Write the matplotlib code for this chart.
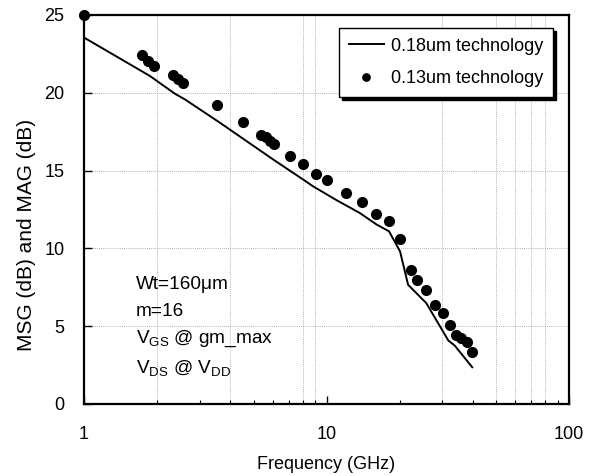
import numpy as np
import matplotlib.pyplot as plt
from matplotlib.ticker import FixedLocator, NullFormatter

plt.rcParams['font.family'] = ['Liberation Sans', 'DejaVu Sans']
plt.rcParams['mathtext.fontset'] = 'custom'
plt.rcParams['mathtext.rm'] = 'Liberation Sans'
plt.rcParams['mathtext.it'] = 'Liberation Sans'

# 0.18um technology (line)
f_018 = [1.0, 1.87, 2.37, 2.61, 3.64, 6.03, 8.02, 8.8, 11.0, 13.7, 16.1, 18.1,
         20.1, 21.7, 25.8, 29.4, 31.8, 33.8, 39.9]
g_018 = [23.55, 21.08, 19.94, 19.57, 18.07, 15.71, 14.42, 13.99, 13.1, 12.28, 11.53, 11.1,
         9.81, 7.66, 6.48, 4.98, 4.08, 3.75, 2.36]

# 0.13um technology (dots)
f_013 = [1.0, 1.73, 1.84, 1.94, 2.33, 2.43, 2.55, 3.53, 4.54, 5.37, 5.63, 5.85, 6.09,
         7.07, 8.02, 9.07, 10.0, 12.0, 14.06, 16.0, 18.1, 20.1, 22.3, 23.7, 25.8,
         28.0, 30.3, 32.3, 34.2, 36.0, 37.8, 39.9]
g_013 = [25.0, 22.43, 22.04, 21.72, 21.12, 20.86, 20.65, 19.23, 18.11, 17.26, 17.17, 16.89, 16.68,
         15.92, 15.43, 14.79, 14.42, 13.57, 12.99, 12.23, 11.74, 10.62, 8.58, 7.94, 7.34,
         6.33, 5.84, 5.09, 4.44, 4.27, 3.97, 3.33]

vgrid = [2, 4, 8, 9, 30, 50, 60, 70, 80]

fig = plt.figure(figsize=(5.98, 4.76), dpi=100)
ax = fig.add_axes([0.1405, 0.1513, 0.811, 0.8172])

ax.plot(f_018, g_018, '-', color='black', lw=1.4, label='0.18um technology')
ax.plot(f_013, g_013, 'o', color='black', ms=7, ls='none', clip_on=False,
        label='0.13um technology')

ax.set_xscale('log')
ax.set_xlim(1, 100)
ax.set_ylim(0, 25)
ax.set_yticks([0, 5, 10, 15, 20, 25])
ax.set_xticks([1, 10, 100])
ax.set_xticklabels(['1', '10', '100'])
ax.xaxis.set_minor_locator(FixedLocator([2, 3, 4, 5, 6, 7, 8, 9, 20, 30, 40, 50, 60, 70, 80, 90]))
ax.xaxis.set_minor_formatter(NullFormatter())

for v in vgrid:
    ax.axvline(v, color='#999999', lw=0.6, ls=(0, (1, 1.5)), zorder=0)
for h in [5, 10, 15, 20]:
    ax.axhline(h, color='#999999', lw=0.6, ls=(0, (1, 1.5)), zorder=0)

ax.tick_params(axis='both', which='major', direction='in', length=6, width=1,
               labelsize=13)
ax.tick_params(axis='x', pad=16)
ax.tick_params(axis='y', pad=14)
ax.tick_params(axis='x', which='minor', direction='in', length=3, width=0.8)
for s in ax.spines.values():
    s.set_linewidth(1.6)

ax.set_xlabel('Frequency (GHz)', fontsize=13, labelpad=9)
ax.set_ylabel('MSG (dB) and MAG (dB)', fontsize=15)
ax.yaxis.set_label_coords(-0.099, 0.434)

txt = ['Wt=160\u03bcm', 'm=16', 'V$_{\\rm GS}$ @ gm_max', 'V$_{\\rm DS}$ @ V$_{\\rm DD}$']
ypos = [0.306, 0.239, 0.168, 0.093]
for t, yy in zip(txt, ypos):
    ax.text(0.107, yy, t, transform=ax.transAxes, fontsize=13.7,
            va='center', ha='left')

leg = ax.legend(loc='upper right', bbox_to_anchor=(0.967, 0.967), fontsize=13,
                frameon=True, fancybox=False, shadow={'color': 'black', 'alpha': 1},
                edgecolor='black', framealpha=1, handlelength=1.9, markerscale=0.75,
                labelspacing=0.85, borderpad=0.55, handletextpad=0.4, borderaxespad=0)
leg.get_frame().set_linewidth(1.0)

fig.savefig('out.png', dpi=100)
